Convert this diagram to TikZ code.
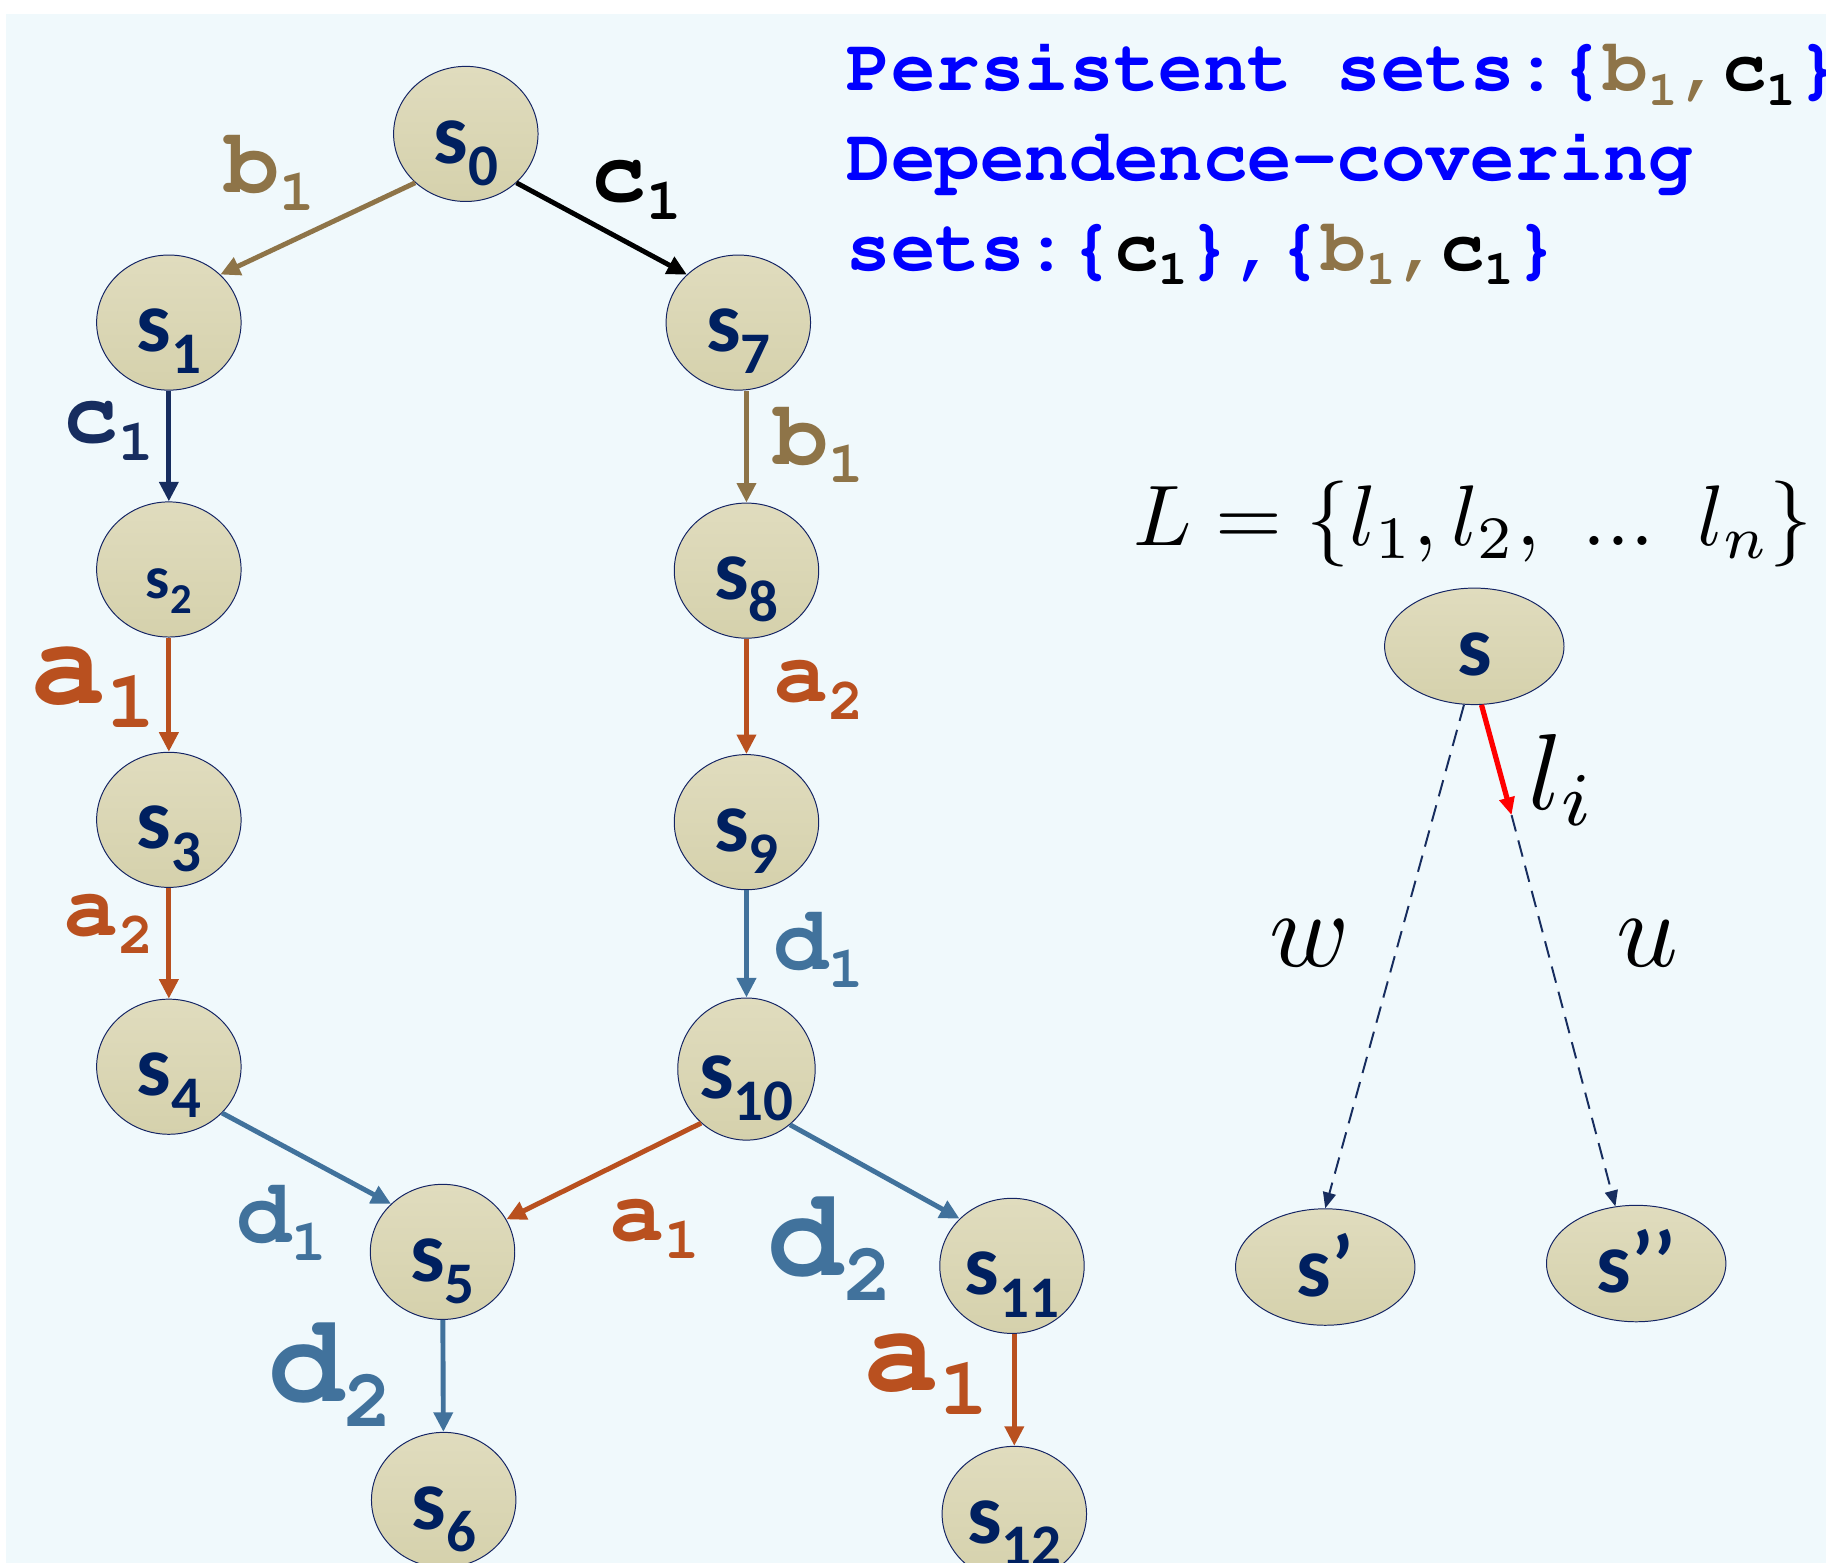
\documentclass[tikz,border=0pt]{standalone}
\usepackage[T1]{fontenc}
\usepackage{fontspec}
\usetikzlibrary{arrows.meta,shapes.geometric,calc}
\newfontfamily\nodefont{Carlito}
\newcommand\courb{\fontencoding{T1}\fontfamily{pcr}\fontseries{b}\selectfont}
\definecolor{bgblue}{RGB}{240,249,252}
\definecolor{nodetop}{RGB}{224,220,190}
\definecolor{nodebot}{RGB}{213,209,172}
\definecolor{nodeborder}{RGB}{20,36,100}
\definecolor{nodetext}{RGB}{0,32,96}
\definecolor{tanc}{RGB}{142,116,72}
\definecolor{orc}{RGB}{185,80,31}
\definecolor{blc}{RGB}{65,114,156}
\definecolor{navyc}{RGB}{23,45,95}
\definecolor{hblue}{RGB}{0,0,255}
\newcommand\slab[1]{\makebox[0pt][c]{\fontsize{53}{53}\selectfont s\raisebox{-13.5pt}{\fontsize{36}{36}\selectfont #1}}}
\newcommand\sslab[1]{\makebox[0pt][c]{\fontsize{37}{37}\selectfont s\raisebox{-9pt}{\fontsize{26}{26}\selectfont #1}}}
\newcommand\mlab[2]{{\courb\fontsize{56}{56}\selectfont #1\raisebox{-11pt}{\fontsize{36}{36}\selectfont #2}}}
\newcommand\blab[2]{{\courb\fontsize{77}{77}\selectfont #1\raisebox{-15pt}{\fontsize{50}{50}\selectfont #2}}}
\newcommand\hsub[1]{\raisebox{-9pt}{\fontsize{30}{30}\selectfont #1}}
\begin{document}
\begin{tikzpicture}[x=0.025cm,y=-0.025cm,
  st/.style={ellipse, draw=nodeborder, line width=0.6pt, top color=nodetop, bottom color=nodebot,
    minimum width=3.1cm, minimum height=2.9cm, inner sep=0pt, text=nodetext,
    font=\nodefont\bfseries, text height=1.25cm, text depth=0pt},
  ov/.style={st, minimum width=3.85cm, minimum height=2.5cm},
  e/.style={line width=3pt, -{Triangle[length=0.42cm,width=0.4cm]}},
  dsh/.style={draw=navyc, line width=1.2pt, dash pattern=on 0.36cm off 0.2cm, -{Triangle[length=0.34cm,width=0.28cm]}},
  lb/.style={inner sep=0pt},
  hd/.style={anchor=base west, inner sep=0pt, font=\courb\fontsize{45.3}{45.3}\selectfont, text=hblue},
  mt/.style={inner sep=0pt}]
\useasboundingbox (0,0) rectangle (1568,1342);
\clip (0,0) rectangle (1568,1342);
\fill[bgblue] (5,12) rectangle (1568,1342);

% left graph nodes
\node[st] (s0) at (400,115) {\slab{0}};
\node[st] (s1) at (145,277) {\slab{1}};
\node[st] (s7) at (634,277) {\slab{7}};
\node[st] (s2) at (145,489) {\sslab{2}};
\node[st] (s8) at (641,490) {\slab{8}};
\node[st] (s3) at (145,704) {\slab{3}};
\node[st] (s9) at (641,706) {\slab{9}};
\node[st] (s4) at (145,916) {\slab{4}};
\node[st, minimum width=2.95cm, minimum height=3.05cm] (s10) at (641,918) {\slab{10}};
\node[st] (s5) at (380,1075) {\slab{5}};
\node[st] (s6) at (381,1288) {\slab{6}};
\node[st] (s11) at (869,1087) {\slab{11}};
\node[st] (s12) at (871,1300) {\slab{12}};

% edges
\draw[e, tanc] (s0.224) -- (s1.43);
\draw[e, black] (s0.-44) -- (s7.137);
\draw[e, navyc] (s1) -- (s2);
\draw[e, tanc] (s7.south -| s8.north) -- (s8.north);
\draw[e, orc] (s2) -- (s3);
\draw[e, orc] (s8) -- (s9);
\draw[e, orc] (s3) -- (s4);
\draw[e, blc] (s9) -- (s10);
\draw[e, blc] (s4.-41) -- (s5.137);
\draw[e, orc] (s10.-130) -- (s5.27);
\draw[e, blc] (s10.-52) -- (s11.138);
\draw[e, blc] (s5) -- (s6);
\draw[e, orc] (s11.south -| s12.north) -- (s12.north);

% edge labels
\node[lb, text=tanc] (lb1) at (232,148) {\mlab{b}{1}};
\node[lb, text=black] (lc1) at (547,163) {\mlab{c}{1}};
\node[lb, text=navyc] (lc2) at (93,370) {\mlab{c}{1}};
\node[lb, text=tanc] (lb2) at (703,382) {\mlab{b}{1}};
\node[lb, text=orc] (la1) at (80,590) {\blab{a}{1}};
\node[lb, text=orc] (la2) at (703,592) {\mlab{a}{2}};
\node[lb, text=orc] (la3) at (93,793) {\mlab{a}{2}};
\node[lb, text=blc] (ld1) at (703,815) {\mlab{d}{1}};
\node[lb, text=blc] (ld2) at (242,1050) {\mlab{d}{1}};
\node[lb, text=orc] (la4) at (562,1055) {\mlab{a}{1}};
\node[lb, text=blc] (ld3) at (713,1072) {\blab{d}{2}};
\node[lb, text=blc] (ld4) at (284,1180) {\blab{d}{2}};
\node[lb, text=orc] (la5) at (795,1180) {\blab{a}{1}};

% header text
\node[hd] (h1) at (727,78) {Persistent sets:\{\textcolor{tanc}{b\hsub{1},}\textcolor{black}{c\hsub{1}}\}};
\node[hd] (h2) at (727,155) {Dependence-covering};
\node[hd] (h3) at (727,232) {sets:\{\textcolor{black}{c\hsub{1}}\},\{\textcolor{tanc}{b\hsub{1},}\textcolor{black}{c\hsub{1}}\}};

% right diagram
\node[mt] (Lset) at (1265,450) {\scalebox{5.25}{$L=\{l_1,l_2,\ {.}{.}{.}\ \, l_n\}$}};
\node[ov] (s) at (1266,555) {\makebox[0pt][c]{\fontsize{53}{53}\selectfont s}};
\node[ov] (sp) at (1138,1088) {\makebox[0pt][c]{\fontsize{53}{53}\selectfont s’}};
\node[ov] (spp) at (1405,1085) {\makebox[0pt][c]{\fontsize{53}{53}\selectfont s’’}};
\coordinate (li) at (1298,700);
\draw[red, line width=3.2pt, -{Triangle[length=0.38cm,width=0.32cm]}] (s.-83) -- (li);
\draw[dsh] (li) -- (spp.110);
\draw[dsh] (s.-100) -- (sp.north);
\node[mt] (lil) at (1342,670) {\scalebox{6.6}{$l_i$}};
\node[mt] (wl) at (1125,810) {\scalebox{6.6}{$w$}};
\node[mt] (ul) at (1415,810) {\scalebox{6.6}{$u$}};
\end{tikzpicture}
\end{document}
